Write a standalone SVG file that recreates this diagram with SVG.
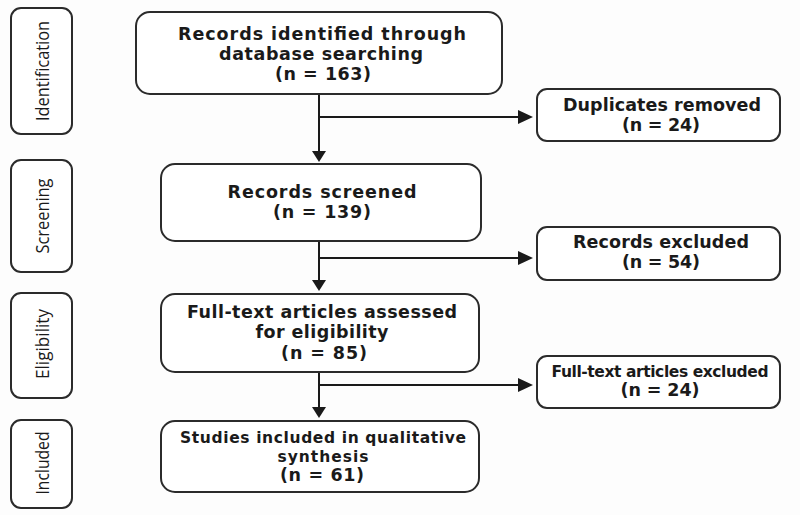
<svg xmlns="http://www.w3.org/2000/svg" width="800" height="515" viewBox="0 0 800 515">
<style>
.box{fill:#fff;stroke:#2b2b2b;stroke-width:2}
.t{font-family:"DejaVu Sans","Open Sans",sans-serif;font-weight:bold;font-size:17.5px;fill:#1a1a1a;text-anchor:middle}
.s{font-size:15.5px}
.side{font-family:"Open Sans","DejaVu Sans",sans-serif;font-size:18px;fill:#1a1a1a;text-anchor:middle;dominant-baseline:central}
.ln{stroke:#1a1a1a;stroke-width:2;fill:none}
.ah{fill:#1a1a1a}
</style>
<rect width="800" height="515" fill="#fdfdfd"/>
<g id="stage-identification">
<rect class="box" x="11" y="8" width="61" height="126" rx="10"/>
<text class="side" transform="translate(42 71) rotate(-90)" textLength="100" lengthAdjust="spacingAndGlyphs">Identification</text>
</g>
<g id="stage-screening">
<rect class="box" x="11" y="160" width="61" height="112" rx="10"/>
<text class="side" transform="translate(42 216) rotate(-90)" textLength="75" lengthAdjust="spacingAndGlyphs">Screening</text>
</g>
<g id="stage-eligibility">
<rect class="box" x="11" y="293" width="61" height="105" rx="10"/>
<text class="side" transform="translate(42 344) rotate(-90)" textLength="70" lengthAdjust="spacingAndGlyphs">Eligibility</text>
</g>
<g id="stage-included">
<rect class="box" x="11" y="420" width="61" height="88" rx="10"/>
<text class="side" transform="translate(42 463) rotate(-90)" textLength="63" lengthAdjust="spacingAndGlyphs">Included</text>
</g>
<g id="connectors">
<line class="ln" x1="319" y1="94" x2="319" y2="152"/>
<polygon class="ah" points="312,151 326,151 319,162"/>
<line class="ln" x1="319" y1="117" x2="520" y2="117"/>
<polygon class="ah" points="518,110 518,124 533,117"/>
<line class="ln" x1="319" y1="241" x2="319" y2="281"/>
<polygon class="ah" points="312,280 326,280 319,291"/>
<line class="ln" x1="319" y1="258" x2="520" y2="258"/>
<polygon class="ah" points="518,251 518,265 533,258"/>
<line class="ln" x1="319" y1="372" x2="319" y2="408"/>
<polygon class="ah" points="312,407 326,407 319,418"/>
<line class="ln" x1="319" y1="385" x2="520" y2="385"/>
<polygon class="ah" points="518,378 518,392 533,385"/>
</g>
<g id="records-identified">
<rect class="box" x="136" y="12" width="366" height="82" rx="14"/>
<text class="t" x="322" y="40" textLength="288">Records identified through</text>
<text class="t" x="321" y="60" textLength="204">database searching</text>
<text class="t" x="323" y="80" textLength="96">(n = 163)</text>
</g>
<g id="duplicates-removed">
<rect class="box" x="537" y="89" width="243" height="52" rx="10"/>
<text class="t" x="662" y="111" textLength="198">Duplicates removed</text>
<text class="t" x="661" y="131" textLength="78">(n = 24)</text>
</g>
<g id="records-screened">
<rect class="box" x="161" y="164" width="320" height="77" rx="14"/>
<text class="t" x="322" y="198" textLength="189">Records screened</text>
<text class="t" x="322" y="218" textLength="98">(n = 139)</text>
</g>
<g id="records-excluded">
<rect class="box" x="537" y="227" width="243" height="53" rx="10"/>
<text class="t" x="661" y="248" textLength="176">Records excluded</text>
<text class="t" x="661" y="268" textLength="78">(n = 54)</text>
</g>
<g id="fulltext-assessed">
<rect class="box" x="161" y="294" width="318" height="78" rx="14"/>
<text class="t" x="322" y="318" textLength="270">Full-text articles assessed</text>
<text class="t" x="322" y="338" textLength="133">for eligibility</text>
<text class="t" x="324" y="359" textLength="86">(n = 85)</text>
</g>
<g id="fulltext-excluded">
<rect class="box" x="537" y="356" width="243" height="52" rx="10"/>
<text class="t s" x="660" y="377" textLength="217">Full-text articles excluded</text>
<text class="t" x="660" y="396" textLength="79">(n = 24)</text>
</g>
<g id="studies-included">
<rect class="box" x="161" y="421" width="318" height="71" rx="14"/>
<text class="t s" x="323" y="443" textLength="286">Studies included in qualitative</text>
<text class="t s" x="323" y="462" textLength="91">synthesis</text>
<text class="t" x="322" y="481" textLength="84">(n = 61)</text>
</g>
</svg>
